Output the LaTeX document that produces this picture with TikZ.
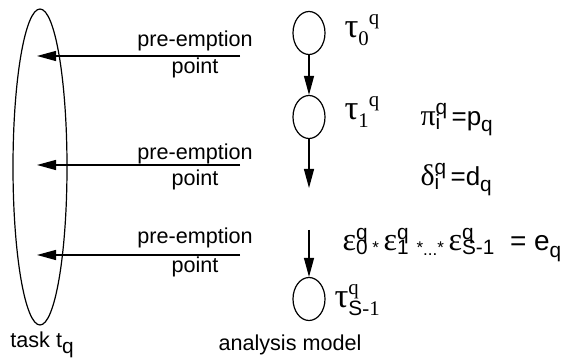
\documentclass[tikz,border=0pt]{standalone}
\usepackage{fontspec}
\setmainfont{Liberation Sans}
\newfontfamily\grk[Scale=1.15]{Liberation Serif}
\newfontfamily\tms{Liberation Serif}
\usetikzlibrary{positioning,arrows.meta,shapes.geometric}
\newcommand\scrfont{\fontsize{10.4}{12}\selectfont}
% superscript over subscript, raised/lowered by #1 and #2
\newcommand\supsb[4]{%
  \setbox0=\hbox{\scrfont #3}\setbox2=\hbox{\scrfont #4}%
  \ifdim\wd0>\wd2 \wd2=\wd0 \fi
  \rlap{\raisebox{#1}{\box0}}\raisebox{#2}{\box2}}
\newcommand\msc[2]{\supsb{0.4em}{-0.15em}{#1}{#2}}
\newcommand\lowsb[1]{\raisebox{-0.25em}{\scrfont #1}}
\newcommand\upsb[1]{\raisebox{0.45em}{\scrfont #1}}
\newcommand\smstar{\raisebox{-1.5pt}{\fontsize{8.5}{9}\selectfont *}}
\newcommand\smdots{\raisebox{-2.5pt}{\fontsize{8.5}{9}\selectfont ...}}

\begin{document}
\begin{tikzpicture}[x=0.5pt, y=-0.5pt, line width=0.6pt,
  every node/.style={font=\fontsize{10.8}{13}\selectfont, inner sep=0pt},
  mlabel/.style={anchor=west, font=\fontsize{13}{15}\selectfont},
  tlabel/.style={anchor=west, font=\fontsize{15}{17}\selectfont\tms},
  tri/.style={-{Triangle[length=9.5pt, width=5pt]}}]
\useasboundingbox (0,0) rectangle (584,362);
% task and its pre-emption points
\node[draw, ellipse, minimum width=27pt, minimum height=158pt] (task) at (40,167) {};
\node (tasklbl) at (42,345) {task t\lowsb{q}};
\coordinate (pp1) at (240,56);
\coordinate (pp2) at (240,165);
\coordinate (pp3) at (240,255);
\draw[tri] (pp1) -- ([xshift=-1.5pt]task.center |- pp1);
\draw[tri] (pp2) -- ([xshift=-1.5pt]task.center |- pp2);
\draw[tri] (pp3) -- ([xshift=-1.5pt]task.center |- pp3);
\node (pe1) at (195,41) {pre-emption}; \node (pt1) at (195,68) {point};
\node (pe2) at (195,154) {pre-emption}; \node (pt2) at (195,180) {point};
\node (pe3) at (195,238) {pre-emption}; \node (pt3) at (195,267) {point};
% analysis model
\node[draw, ellipse, minimum width=16pt, minimum height=21.5pt] (tau0) at (309,33) {};
\node[draw, ellipse, minimum width=16pt, minimum height=21.5pt] (tau1) at (309,117) {};
\node[draw, ellipse, minimum width=16pt, minimum height=21.5pt] (tauS) at (309,299) {};
\coordinate (gapt) at (309,188);
\coordinate (gapb) at (309,230);
\draw[tri] (tau0) -- (tau1);
\draw[tri] (tau1) -- (gapt);
\draw[tri] (gapb) -- (tauS);
\node[tlabel] (lbl0) at (344,30) {{\grk τ}\lowsb{0}\upsb{q}};
\node[tlabel] (lbl1) at (344,112) {{\grk τ}\lowsb{1}\upsb{q}};
\node[tlabel] (lblS) at (334,300) {{\grk τ}\supsb{0.45em}{-0.25em}{q}{\fontspec{Liberation Sans}S}\lowsb{-1}};
\node[mlabel] (period) at (420,120) {{\grk π}\msc{q}{i}\,=p\lowsb{q}};
\node[mlabel] (dline) at (420,180) {{\grk δ}\msc{q}{i}\,=d\lowsb{q}};
\node[mlabel, font=\fontsize{14}{16}\selectfont] (exec) at (342,245) {{\grk ε}\msc{q}{0}\,\smstar\,{\grk ε}\msc{q}{1}\;\smstar\smdots\smstar\,{\grk ε}\msc{q}{S-1}\ \ = e\lowsb{q}};
\node (amlbl) at (290,345) {analysis model};
\end{tikzpicture}
\end{document}
